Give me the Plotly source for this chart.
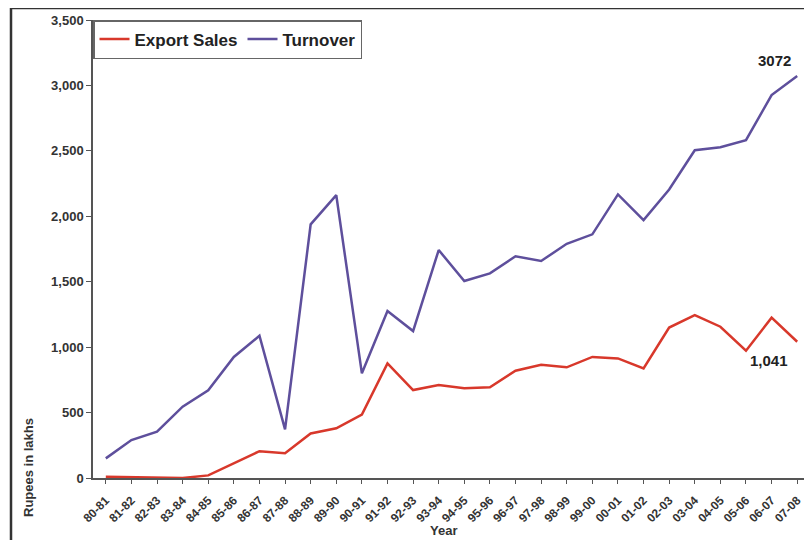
import plotly.graph_objects as go

years = ["80-81", "81-82", "82-83", "83-84", "84-85", "85-86", "86-87", "87-88",
         "88-89", "89-90", "90-91", "91-92", "92-93", "93-94", "94-95", "95-96",
         "96-97", "97-98", "98-99", "99-00", "00-01", "01-02", "02-03", "03-04",
         "04-05", "05-06", "06-07", "07-08"]
export_sales = [10, 5, 0, 0, 20, 110, 205, 190, 340, 380, 485, 876, 672, 710,
                685, 693, 820, 866, 846, 925, 914, 838, 1150, 1245, 1156, 973,
                1225, 1041]
turnover = [150, 290, 354, 545, 670, 925, 1087, 372, 1938, 2162, 800, 1276,
            1123, 1742, 1505, 1564, 1694, 1658, 1790, 1862, 2167, 1971, 2205,
            2505, 2528, 2582, 2926, 3072]
y_ticks = [0, 500, 1000, 1500, 2000, 2500, 3000, 3500]

font = "Liberation Sans, Arial, sans-serif"
red = "#d8382b"
purple = "#5e4f9c"

fig = go.Figure()
fig.add_trace(go.Scatter(x=years, y=export_sales, mode="lines", name="Export Sales",
                         line=dict(color=red, width=2.5)))
fig.add_trace(go.Scatter(x=years, y=turnover, mode="lines", name="Turnover",
                         line=dict(color=purple, width=2.5)))

fig.add_annotation(x=years[-1], y=turnover[-1], text="3072", showarrow=False,
                   xshift=-23, yshift=16,
                   font=dict(family=font, size=15, color="#222", weight="bold"))
fig.add_annotation(x=years[-1], y=export_sales[-1], text="1,041", showarrow=False,
                   xshift=-28, yshift=-19,
                   font=dict(family=font, size=15, color="#222", weight="bold"))

fig.add_annotation(xref="paper", yref="paper", x=(443 - 93) / 717, y=-(530 - 478) / 458,
                   xanchor="center", yanchor="middle",
                   text="Year", showarrow=False,
                   font=dict(family=font, size=13, color="#333", weight="bold"))
fig.add_annotation(xref="paper", yref="paper", x=(28 - 93) / 717, y=(478 - 468) / 458,
                   xanchor="center", yanchor="middle",
                   text="Rupees in lakhs", showarrow=False, textangle=-90,
                   font=dict(family=font, size=13, color="#333", weight="bold"))

# outer frame
fig.add_shape(type="rect", xref="paper", yref="paper",
              x0=(11 - 93) / 717, x1=(830 - 93) / 717,
              y0=(478 - 560) / 458, y1=1 + (20 - 8) / 458,
              line=dict(color="#333", width=2.5), fillcolor="rgba(0,0,0,0)", layer="below")

fig.update_layout(
    width=804, height=532,
    margin=dict(l=85, r=2, t=12, b=62),
    paper_bgcolor="white", plot_bgcolor="white",
    font=dict(family=font, color="#333"),
    showlegend=True,
    legend=dict(orientation="h", x=0, y=1, xanchor="left", yanchor="top",
                bordercolor="#666", borderwidth=1.5, bgcolor="white",
                font=dict(family=font, size=17, color="#222", weight="bold"),
                itemwidth=30, tracegroupgap=0),
    xaxis=dict(type="category", range=[-0.5, 27.5], showgrid=False,
               showline=True, linecolor="#555", linewidth=1.5,
               ticks="outside", ticklen=4, tickcolor="#555", tickangle=-45,
               ticklabelstandoff=5,
               tickfont=dict(family=font, size=12, color="#333", weight="bold")),
    yaxis=dict(range=[0, 3500], tickvals=y_ticks, showgrid=False, zeroline=False,
               showline=True, linecolor="#555", linewidth=1.5,
               ticks="outside", ticklen=5, tickcolor="#555",
               tickformat=",d",
               tickfont=dict(family=font, size=13, color="#333", weight="bold")),
)

fig.write_html("out.html")
